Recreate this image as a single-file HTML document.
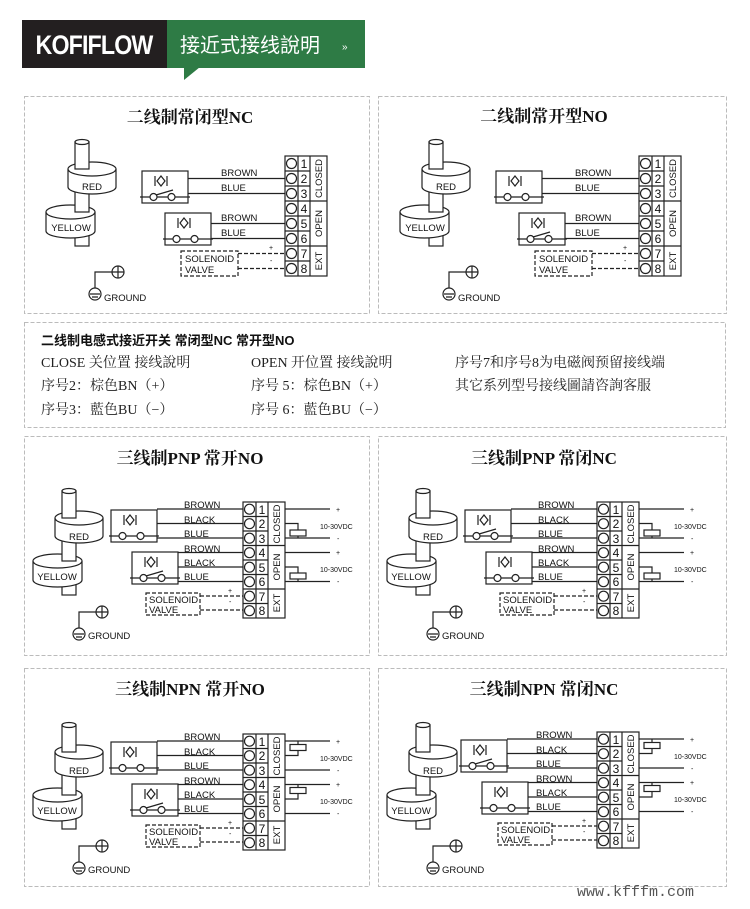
<!DOCTYPE html>
<html><head><meta charset="utf-8"><style>
html,body{margin:0;padding:0;background:#fff}
svg{display:block}
.t{font-family:"Liberation Serif","Noto Serif CJK SC",serif;font-weight:bold;font-size:17px;fill:#111}
.s{font-family:"Liberation Sans",sans-serif;font-size:9.5px;fill:#111}
.n{font-family:"Liberation Sans",sans-serif;font-size:12px;fill:#111}
.v{font-family:"Liberation Sans",sans-serif;font-size:7px;fill:#111}
.b{fill:none;stroke:#bbb;stroke-dasharray:4 2}
.l{stroke:#222;stroke-width:1.2;fill:none}
.d{stroke:#222;stroke-width:1.2;fill:none;stroke-dasharray:4 2}
.tx{font-family:"Liberation Serif","Noto Serif CJK SC",serif;font-size:14px;fill:#222}
</style></head><body>
<svg width="750" height="909" viewBox="0 0 750 909" xmlns="http://www.w3.org/2000/svg">
<defs>
<symbol id="cyl" overflow="visible">
 <g stroke="#222" stroke-width="1.2" fill="#fff">
  <rect x="38" y="140" width="14" height="19"/>
  <path d="M9 125 A24.5 7 0 0 1 58 125 L58 144 A24.5 7 0 0 1 9 144 Z"/>
  <path d="M9 125 A24.5 7 0 0 0 58 125"/>
  <rect x="38" y="96" width="14" height="29"/>
  <path d="M31 82 A24 7 0 0 1 79 82 L79 100 A24 7 0 0 1 31 100 Z"/>
  <path d="M31 82 A24 7 0 0 0 79 82"/>
  <rect x="38" y="55" width="14" height="27"/>
  <ellipse cx="45" cy="55" rx="7" ry="2.5"/>
 </g>
</symbol>
<symbol id="gnd" overflow="visible">
 <g stroke="#222" stroke-width="1.2" fill="#fff">
  <path d="M72 176 H55 V192" fill="none"/>
  <circle cx="78" cy="176" r="6"/><path d="M72 176H84M78 170V182"/>
  <circle cx="55" cy="198" r="6"/><path d="M50 198H60M52 201H58"/>
 </g>
</symbol>
<symbol id="sno" overflow="visible">
 <g stroke="#222" stroke-width="1.2" fill="#fff">
  <rect x="0" y="0" width="46" height="32"/>
  <path d="M19 5 L23 10 L19 15 L15 10 Z M13 5 V15 M25 5 V15" fill="none"/>
  <path d="M-2 26 H8 M15 26 H26 M33 26 H48" fill="none"/>
  <circle cx="11.5" cy="26" r="3.5"/><circle cx="29.5" cy="26" r="3.5"/>
  <path d="M14 24 L31 19" fill="none"/>
 </g>
</symbol>
<symbol id="snc" overflow="visible">
 <g stroke="#222" stroke-width="1.2" fill="#fff">
  <rect x="0" y="0" width="46" height="32"/>
  <path d="M19 5 L23 10 L19 15 L15 10 Z M13 5 V15 M25 5 V15" fill="none"/>
  <path d="M-2 26 H48" fill="none"/>
  <circle cx="11.5" cy="26" r="3.5"/><circle cx="29.5" cy="26" r="3.5"/>
 </g>
</symbol>
<symbol id="blk2" overflow="visible">
 <g stroke="#222" stroke-width="1.2" fill="#fff">
  <rect x="0" y="0" width="42" height="120"/>
  <path d="M13 0V120M25 0V120M0 15H25M0 30H25M0 45H42M0 60H25M0 75H25M0 90H42M0 105H25" fill="none"/>
  <circle cx="6.5" cy="7.5" r="5"/><circle cx="6.5" cy="22.5" r="5"/><circle cx="6.5" cy="37.5" r="5"/><circle cx="6.5" cy="52.5" r="5"/>
  <circle cx="6.5" cy="67.5" r="5"/><circle cx="6.5" cy="82.5" r="5"/><circle cx="6.5" cy="97.5" r="5"/><circle cx="6.5" cy="112.5" r="5"/>
 </g>
</symbol>
<symbol id="blk3" overflow="visible">
 <g stroke="#222" stroke-width="1.2" fill="#fff">
  <rect x="0" y="0" width="42" height="116"/>
  <path d="M13 0V116M25 0V116M0 14.5H25M0 29H25M0 43.5H42M0 58H25M0 72.5H25M0 87H42M0 101.5H25" fill="none"/>
  <circle cx="6.5" cy="7.2" r="5"/><circle cx="6.5" cy="21.7" r="5"/><circle cx="6.5" cy="36.2" r="5"/><circle cx="6.5" cy="50.7" r="5"/>
  <circle cx="6.5" cy="65.2" r="5"/><circle cx="6.5" cy="79.7" r="5"/><circle cx="6.5" cy="94.2" r="5"/><circle cx="6.5" cy="108.7" r="5"/>
 </g>
</symbol>
<symbol id="rel" overflow="visible">
 <g stroke="#222" stroke-width="1.2" fill="#fff">
  <rect x="-8" y="-3" width="16" height="6"/>
 </g>
</symbol>
</defs>

<!-- header -->
<rect x="22" y="20" width="145" height="48" fill="#231f20"/>
<rect x="167" y="20" width="198" height="48" fill="#2e7b45"/>
<path d="M184 67 L200 67 L184 80 Z" fill="#2e7b45"/>
<text x="94" y="54" text-anchor="middle" style="font-family:'Liberation Sans',sans-serif;font-weight:bold;font-size:27px;fill:#fff;letter-spacing:-1px" transform="translate(94 0) scale(0.86 1) translate(-94 0)">KOFIFLOW</text>
<text x="180" y="52" style="font-family:'Liberation Sans','Noto Sans CJK SC',sans-serif;font-size:20px;fill:#fff">接近式接线說明</text>
<text x="342" y="50" style="font-family:'Liberation Sans',sans-serif;font-size:10px;fill:#fff">»</text>

<!-- ========== 2-wire panels ========== -->
<g transform="translate(24,96)">
 <rect class="b" x="0.5" y="0.5" width="345" height="217"/>
 <text class="t" x="166" y="27" text-anchor="middle">二线制常闭型NC</text>
 <use href="#cyl" x="13" y="-9"/>
 <text class="s" x="68" y="94" text-anchor="middle">RED</text>
 <text class="s" x="47" y="135" text-anchor="middle">YELLOW</text>
 <use href="#gnd" x="16" y="0"/>
 <text class="s" x="80" y="205">GROUND</text>
 <use href="#blk2" x="261" y="60"/>
 <text class="n" x="280" y="72" text-anchor="middle">1</text><text class="n" x="280" y="87" text-anchor="middle">2</text><text class="n" x="280" y="102" text-anchor="middle">3</text><text class="n" x="280" y="117" text-anchor="middle">4</text>
 <text class="n" x="280" y="132" text-anchor="middle">5</text><text class="n" x="280" y="147" text-anchor="middle">6</text><text class="n" x="280" y="162" text-anchor="middle">7</text><text class="n" x="280" y="177" text-anchor="middle">8</text>
 <text class="s" transform="translate(298,82.5) rotate(-90)" text-anchor="middle">CLOSED</text>
 <text class="s" transform="translate(298,127.5) rotate(-90)" text-anchor="middle">OPEN</text>
 <text class="s" transform="translate(298,165) rotate(-90)" text-anchor="middle">EXT</text>
 <use href="#sno" x="118" y="75"/>
 <path class="l" d="M164 82.5H261M164 97.5H261"/>
 <text class="s" x="197" y="80">BROWN</text><text class="s" x="197" y="95">BLUE</text>
 <use href="#snc" x="141" y="117"/>
 <path class="l" d="M187 127.5H261M187 142.5H261"/>
 <text class="s" x="197" y="125">BROWN</text><text class="s" x="197" y="140">BLUE</text>
 <rect class="d" x="157" y="155" width="57" height="25"/>
 <path class="d" d="M214 157.5H261M214 172.5H261"/>
 <text class="v" x="245" y="154">+</text><text class="v" x="246" y="167">-</text>
 <text class="s" x="161" y="166">SOLENOID</text><text class="s" x="161" y="177">VALVE</text>
</g>
<g transform="translate(378,96)">
 <rect class="b" x="0.5" y="0.5" width="348" height="217"/>
 <text class="t" x="166" y="26" text-anchor="middle">二线制常开型NO</text>
 <use href="#cyl" x="13" y="-9"/>
 <text class="s" x="68" y="94" text-anchor="middle">RED</text>
 <text class="s" x="47" y="135" text-anchor="middle">YELLOW</text>
 <use href="#gnd" x="16" y="0"/>
 <text class="s" x="80" y="205">GROUND</text>
 <use href="#blk2" x="261" y="60"/>
 <text class="n" x="280" y="72" text-anchor="middle">1</text><text class="n" x="280" y="87" text-anchor="middle">2</text><text class="n" x="280" y="102" text-anchor="middle">3</text><text class="n" x="280" y="117" text-anchor="middle">4</text>
 <text class="n" x="280" y="132" text-anchor="middle">5</text><text class="n" x="280" y="147" text-anchor="middle">6</text><text class="n" x="280" y="162" text-anchor="middle">7</text><text class="n" x="280" y="177" text-anchor="middle">8</text>
 <text class="s" transform="translate(298,82.5) rotate(-90)" text-anchor="middle">CLOSED</text>
 <text class="s" transform="translate(298,127.5) rotate(-90)" text-anchor="middle">OPEN</text>
 <text class="s" transform="translate(298,165) rotate(-90)" text-anchor="middle">EXT</text>
 <use href="#snc" x="118" y="75"/>
 <path class="l" d="M164 82.5H261M164 97.5H261"/>
 <text class="s" x="197" y="80">BROWN</text><text class="s" x="197" y="95">BLUE</text>
 <use href="#sno" x="141" y="117"/>
 <path class="l" d="M187 127.5H261M187 142.5H261"/>
 <text class="s" x="197" y="125">BROWN</text><text class="s" x="197" y="140">BLUE</text>
 <rect class="d" x="157" y="155" width="57" height="25"/>
 <path class="d" d="M214 157.5H261M214 172.5H261"/>
 <text class="v" x="245" y="154">+</text><text class="v" x="246" y="167">-</text>
 <text class="s" x="161" y="166">SOLENOID</text><text class="s" x="161" y="177">VALVE</text>
</g>

<!-- text panel -->
<rect class="b" x="24.5" y="322.5" width="701" height="105"/>
<text x="41" y="345" style="font-family:'Liberation Sans','Noto Sans CJK SC',sans-serif;font-weight:bold;font-size:13px;fill:#111">二线制电感式接近开关 常闭型NC 常开型NO</text>
<text class="tx" x="41" y="367">CLOSE 关位置 接线說明</text>
<text class="tx" x="41" y="390">序号2：棕色BN（+）</text>
<text class="tx" x="41" y="414">序号3：藍色BU（−）</text>
<text class="tx" x="251" y="367">OPEN 开位置 接线說明</text>
<text class="tx" x="251" y="390">序号 5：棕色BN（+）</text>
<text class="tx" x="251" y="414">序号 6：藍色BU（−）</text>
<text class="tx" x="455" y="367">序号7和序号8为电磁阀预留接线端</text>
<text class="tx" x="455" y="390">其它系列型号接线圖請咨詢客服</text>

<!-- ========== 3-wire panels ========== -->
<g transform="translate(24,436)">
 <rect class="b" x="0.5" y="0.5" width="345" height="219"/>
 <text class="t" x="166" y="28" text-anchor="middle">三线制PNP 常开NO</text>
 <use href="#cyl"/>
 <text class="s" x="55" y="104" text-anchor="middle">RED</text>
 <text class="s" x="33" y="144" text-anchor="middle">YELLOW</text>
 <use href="#gnd"/>
 <text class="s" x="64" y="203">GROUND</text>
 <use href="#blk3" x="219" y="66"/>
 <text class="n" x="238" y="78" text-anchor="middle">1</text><text class="n" x="238" y="92" text-anchor="middle">2</text><text class="n" x="238" y="107" text-anchor="middle">3</text><text class="n" x="238" y="121" text-anchor="middle">4</text>
 <text class="n" x="238" y="136" text-anchor="middle">5</text><text class="n" x="238" y="150" text-anchor="middle">6</text><text class="n" x="238" y="165" text-anchor="middle">7</text><text class="n" x="238" y="179" text-anchor="middle">8</text>
 <text class="s" transform="translate(256,88) rotate(-90)" text-anchor="middle">CLOSED</text>
 <text class="s" transform="translate(256,131) rotate(-90)" text-anchor="middle">OPEN</text>
 <text class="s" transform="translate(256,167) rotate(-90)" text-anchor="middle">EXT</text>
 <use href="#snc" x="87" y="74"/>
 <path class="l" d="M133 73H219M133 87.5H219M133 102H219"/>
 <text class="s" x="160" y="72">BROWN</text><text class="s" x="160" y="87">BLACK</text><text class="s" x="160" y="101">BLUE</text>
 <use href="#sno" x="108" y="116"/>
 <path class="l" d="M154 116.5H219M154 131H219M154 145.5H219"/>
 <text class="s" x="160" y="116">BROWN</text><text class="s" x="160" y="130">BLACK</text><text class="s" x="160" y="144">BLUE</text>
 <path class="l" d="M261 73H306M261 102H306M261 87.5H274V95M274 100V102M261 116.5H306M261 145.5H306M261 131H274V138M274 143V145.5"/>
 <use href="#rel" x="274" y="97"/><use href="#rel" x="274" y="140"/>
 <text class="v" x="312" y="76">+</text><text class="v" x="313" y="105">-</text>
 <text class="v" x="312" y="119">+</text><text class="v" x="313" y="148">-</text>
 <text class="v" x="296" y="93">10-30VDC</text><text class="v" x="296" y="136">10-30VDC</text>
 <rect class="d" x="122" y="157" width="54" height="22"/>
 <path class="d" d="M176 160H219M176 174H219"/>
 <text class="v" x="204" y="157">+</text><text class="v" x="205" y="168">-</text>
 <text class="s" x="125" y="167">SOLENOID</text><text class="s" x="125" y="177">VALVE</text>
</g>
<g transform="translate(378,436)">
 <rect class="b" x="0.5" y="0.5" width="348" height="219"/>
 <text class="t" x="166" y="28" text-anchor="middle">三线制PNP 常闭NC</text>
 <use href="#cyl"/>
 <text class="s" x="55" y="104" text-anchor="middle">RED</text>
 <text class="s" x="33" y="144" text-anchor="middle">YELLOW</text>
 <use href="#gnd"/>
 <text class="s" x="64" y="203">GROUND</text>
 <use href="#blk3" x="219" y="66"/>
 <text class="n" x="238" y="78" text-anchor="middle">1</text><text class="n" x="238" y="92" text-anchor="middle">2</text><text class="n" x="238" y="107" text-anchor="middle">3</text><text class="n" x="238" y="121" text-anchor="middle">4</text>
 <text class="n" x="238" y="136" text-anchor="middle">5</text><text class="n" x="238" y="150" text-anchor="middle">6</text><text class="n" x="238" y="165" text-anchor="middle">7</text><text class="n" x="238" y="179" text-anchor="middle">8</text>
 <text class="s" transform="translate(256,88) rotate(-90)" text-anchor="middle">CLOSED</text>
 <text class="s" transform="translate(256,131) rotate(-90)" text-anchor="middle">OPEN</text>
 <text class="s" transform="translate(256,167) rotate(-90)" text-anchor="middle">EXT</text>
 <use href="#sno" x="87" y="74"/>
 <path class="l" d="M133 73H219M133 87.5H219M133 102H219"/>
 <text class="s" x="160" y="72">BROWN</text><text class="s" x="160" y="87">BLACK</text><text class="s" x="160" y="101">BLUE</text>
 <use href="#snc" x="108" y="116"/>
 <path class="l" d="M154 116.5H219M154 131H219M154 145.5H219"/>
 <text class="s" x="160" y="116">BROWN</text><text class="s" x="160" y="130">BLACK</text><text class="s" x="160" y="144">BLUE</text>
 <path class="l" d="M261 73H306M261 102H306M261 87.5H274V95M274 100V102M261 116.5H306M261 145.5H306M261 131H274V138M274 143V145.5"/>
 <use href="#rel" x="274" y="97"/><use href="#rel" x="274" y="140"/>
 <text class="v" x="312" y="76">+</text><text class="v" x="313" y="105">-</text>
 <text class="v" x="312" y="119">+</text><text class="v" x="313" y="148">-</text>
 <text class="v" x="296" y="93">10-30VDC</text><text class="v" x="296" y="136">10-30VDC</text>
 <rect class="d" x="122" y="157" width="54" height="22"/>
 <path class="d" d="M176 160H219M176 174H219"/>
 <text class="v" x="204" y="157">+</text><text class="v" x="205" y="168">-</text>
 <text class="s" x="125" y="167">SOLENOID</text><text class="s" x="125" y="177">VALVE</text>
</g>
<g transform="translate(24,668)">
 <rect class="b" x="0.5" y="0.5" width="345" height="218"/>
 <text class="t" x="166" y="27" text-anchor="middle">三线制NPN 常开NO</text>
 <use href="#cyl" x="0" y="2"/>
 <text class="s" x="55" y="106" text-anchor="middle">RED</text>
 <text class="s" x="33" y="146" text-anchor="middle">YELLOW</text>
 <use href="#gnd" y="2"/>
 <text class="s" x="64" y="205">GROUND</text>
 <use href="#blk3" x="219" y="66"/>
 <text class="n" x="238" y="78" text-anchor="middle">1</text><text class="n" x="238" y="92" text-anchor="middle">2</text><text class="n" x="238" y="107" text-anchor="middle">3</text><text class="n" x="238" y="121" text-anchor="middle">4</text>
 <text class="n" x="238" y="136" text-anchor="middle">5</text><text class="n" x="238" y="150" text-anchor="middle">6</text><text class="n" x="238" y="165" text-anchor="middle">7</text><text class="n" x="238" y="179" text-anchor="middle">8</text>
 <text class="s" transform="translate(256,88) rotate(-90)" text-anchor="middle">CLOSED</text>
 <text class="s" transform="translate(256,131) rotate(-90)" text-anchor="middle">OPEN</text>
 <text class="s" transform="translate(256,167) rotate(-90)" text-anchor="middle">EXT</text>
 <use href="#snc" x="87" y="74"/>
 <path class="l" d="M133 73H219M133 87.5H219M133 102H219"/>
 <text class="s" x="160" y="72">BROWN</text><text class="s" x="160" y="87">BLACK</text><text class="s" x="160" y="101">BLUE</text>
 <use href="#sno" x="108" y="116"/>
 <path class="l" d="M154 116.5H219M154 131H219M154 145.5H219"/>
 <text class="s" x="160" y="116">BROWN</text><text class="s" x="160" y="130">BLACK</text><text class="s" x="160" y="144">BLUE</text>
 <path class="l" d="M261 73H306M261 102H306M261 87.5H274V82M274 77V73M261 116.5H306M261 145.5H306M261 131H274V125M274 120V116.5"/>
 <use href="#rel" x="274" y="79.5"/><use href="#rel" x="274" y="122.5"/>
 <text class="v" x="312" y="76">+</text><text class="v" x="313" y="105">-</text>
 <text class="v" x="312" y="119">+</text><text class="v" x="313" y="148">-</text>
 <text class="v" x="296" y="93">10-30VDC</text><text class="v" x="296" y="136">10-30VDC</text>
 <rect class="d" x="122" y="157" width="54" height="22"/>
 <path class="d" d="M176 160H219M176 174H219"/>
 <text class="v" x="204" y="157">+</text><text class="v" x="205" y="168">-</text>
 <text class="s" x="125" y="167">SOLENOID</text><text class="s" x="125" y="177">VALVE</text>
</g>
<g transform="translate(378,668)">
 <rect class="b" x="0.5" y="0.5" width="348" height="218"/>
 <text class="t" x="166" y="27" text-anchor="middle">三线制NPN 常闭NC</text>
 <use href="#cyl" x="0" y="2"/>
 <text class="s" x="55" y="106" text-anchor="middle">RED</text>
 <text class="s" x="33" y="146" text-anchor="middle">YELLOW</text>
 <use href="#gnd" y="2"/>
 <text class="s" x="64" y="205">GROUND</text>
 <use href="#blk3" x="219" y="64"/>
 <text class="n" x="238" y="76" text-anchor="middle">1</text><text class="n" x="238" y="90" text-anchor="middle">2</text><text class="n" x="238" y="105" text-anchor="middle">3</text><text class="n" x="238" y="119" text-anchor="middle">4</text>
 <text class="n" x="238" y="134" text-anchor="middle">5</text><text class="n" x="238" y="148" text-anchor="middle">6</text><text class="n" x="238" y="163" text-anchor="middle">7</text><text class="n" x="238" y="177" text-anchor="middle">8</text>
 <text class="s" transform="translate(256,86) rotate(-90)" text-anchor="middle">CLOSED</text>
 <text class="s" transform="translate(256,129) rotate(-90)" text-anchor="middle">OPEN</text>
 <text class="s" transform="translate(256,165) rotate(-90)" text-anchor="middle">EXT</text>
 <use href="#sno" x="83" y="72"/>
 <path class="l" d="M129 71H219M129 85.5H219M129 100H219"/>
 <text class="s" x="158" y="70">BROWN</text><text class="s" x="158" y="85">BLACK</text><text class="s" x="158" y="99">BLUE</text>
 <use href="#snc" x="104" y="114"/>
 <path class="l" d="M150 114.5H219M150 129H219M150 143.5H219"/>
 <text class="s" x="158" y="114">BROWN</text><text class="s" x="158" y="128">BLACK</text><text class="s" x="158" y="142">BLUE</text>
 <path class="l" d="M261 71H306M261 100H306M261 85.5H274V80M274 75V71M261 114.5H306M261 143.5H306M261 129H274V123M274 118V114.5"/>
 <use href="#rel" x="274" y="77.5"/><use href="#rel" x="274" y="120.5"/>
 <text class="v" x="312" y="74">+</text><text class="v" x="313" y="103">-</text>
 <text class="v" x="312" y="117">+</text><text class="v" x="313" y="146">-</text>
 <text class="v" x="296" y="91">10-30VDC</text><text class="v" x="296" y="134">10-30VDC</text>
 <rect class="d" x="120" y="155" width="54" height="22"/>
 <path class="d" d="M174 158H219M174 172H219"/>
 <text class="v" x="204" y="155">+</text><text class="v" x="205" y="166">-</text>
 <text class="s" x="123" y="165">SOLENOID</text><text class="s" x="123" y="175">VALVE</text>
</g>
<text x="577" y="896" style="font-family:'Liberation Mono',monospace;font-size:15px;fill:#555">www.kfffm.com</text>
</svg>
</body></html>
